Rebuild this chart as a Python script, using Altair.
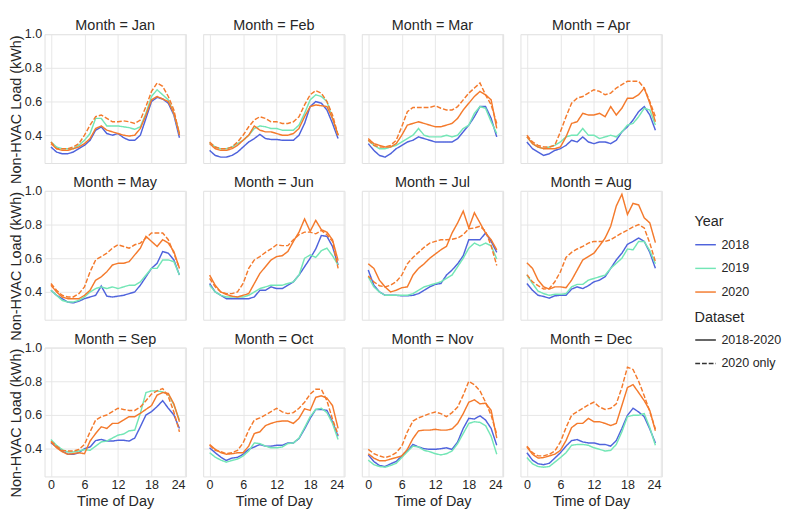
import altair as alt
import pandas as pd

MONTHS = ["Jan", "Feb", "Mar", "Apr", "May", "Jun", "Jul", "Aug", "Sep", "Oct", "Nov", "Dec"]
HOURS = list(range(24))
YEARS = ["2018", "2019", "2020"]
DATASETS = ["2018-2020", "2020 only"]
COLORS = ["#4f63dc", "#73e6b6", "#f47a2c"]

# values: 2018, 2019, 2020 (dataset 2018-2020) and 2020 (dataset 2020 only)
JAN_2018 = [0.33,0.30,0.29,0.29,0.30,0.32,0.34,0.37,0.43,0.45,0.41,0.40,0.41,0.385,0.37,0.37,0.40,0.50,0.60,0.625,0.615,0.59,0.52,0.385]
JAN_2019 = [0.36,0.33,0.32,0.32,0.32,0.34,0.37,0.41,0.50,0.50,0.455,0.455,0.455,0.45,0.445,0.435,0.45,0.53,0.63,0.67,0.64,0.61,0.53,0.41]
JAN_2020 = [0.35,0.32,0.31,0.31,0.32,0.33,0.35,0.38,0.44,0.455,0.43,0.42,0.41,0.40,0.395,0.40,0.44,0.52,0.61,0.63,0.615,0.60,0.53,0.41]
JAN_2020O = [0.36,0.32,0.32,0.32,0.33,0.35,0.40,0.46,0.51,0.52,0.50,0.48,0.48,0.485,0.48,0.47,0.49,0.57,0.66,0.71,0.69,0.63,0.55,0.40]

FEB_2018 = [0.31,0.28,0.27,0.27,0.28,0.30,0.33,0.36,0.38,0.405,0.38,0.375,0.375,0.37,0.37,0.37,0.40,0.47,0.57,0.60,0.59,0.55,0.47,0.38]
FEB_2019 = [0.355,0.33,0.32,0.32,0.33,0.35,0.37,0.40,0.44,0.455,0.45,0.44,0.44,0.43,0.43,0.43,0.46,0.53,0.61,0.64,0.63,0.60,0.50,0.40]
FEB_2020 = [0.35,0.32,0.31,0.31,0.32,0.34,0.37,0.40,0.455,0.43,0.42,0.42,0.41,0.40,0.40,0.41,0.44,0.51,0.57,0.58,0.575,0.57,0.50,0.40]
FEB_2020O = [0.36,0.33,0.32,0.32,0.33,0.36,0.40,0.45,0.49,0.51,0.50,0.48,0.48,0.47,0.47,0.48,0.51,0.58,0.64,0.665,0.65,0.60,0.52,0.40]

MAR_2018 = [0.35,0.31,0.28,0.27,0.29,0.32,0.34,0.36,0.37,0.39,0.38,0.37,0.36,0.36,0.36,0.36,0.38,0.42,0.46,0.51,0.57,0.57,0.50,0.39]
MAR_2019 = [0.37,0.34,0.32,0.32,0.33,0.34,0.36,0.38,0.40,0.44,0.40,0.39,0.39,0.39,0.40,0.39,0.40,0.44,0.46,0.53,0.57,0.56,0.48,0.41]
MAR_2020 = [0.38,0.35,0.34,0.33,0.33,0.35,0.40,0.46,0.47,0.48,0.47,0.46,0.45,0.45,0.46,0.47,0.50,0.55,0.59,0.63,0.66,0.64,0.61,0.44]
MAR_2020O = [0.37,0.34,0.33,0.33,0.34,0.37,0.45,0.54,0.565,0.565,0.565,0.565,0.575,0.56,0.55,0.55,0.57,0.61,0.65,0.68,0.71,0.64,0.58,0.47]

APR_2018 = [0.36,0.32,0.30,0.28,0.29,0.31,0.32,0.34,0.37,0.36,0.39,0.36,0.35,0.36,0.36,0.35,0.37,0.42,0.45,0.49,0.54,0.57,0.52,0.43]
APR_2019 = [0.39,0.35,0.33,0.32,0.33,0.34,0.36,0.39,0.40,0.40,0.44,0.40,0.40,0.38,0.39,0.40,0.39,0.42,0.46,0.47,0.51,0.56,0.55,0.46]
APR_2020 = [0.39,0.35,0.33,0.32,0.32,0.32,0.33,0.39,0.47,0.48,0.53,0.52,0.52,0.53,0.51,0.57,0.52,0.56,0.62,0.62,0.64,0.68,0.59,0.48]
APR_2020O = [0.40,0.36,0.34,0.33,0.33,0.34,0.42,0.51,0.59,0.62,0.63,0.65,0.67,0.66,0.64,0.65,0.68,0.70,0.72,0.72,0.72,0.68,0.60,0.51]

MAY_2018 = [0.41,0.38,0.36,0.34,0.335,0.345,0.36,0.37,0.38,0.435,0.375,0.37,0.375,0.38,0.39,0.40,0.44,0.49,0.54,0.57,0.64,0.63,0.59,0.50]
MAY_2019 = [0.41,0.38,0.35,0.34,0.34,0.35,0.37,0.40,0.42,0.43,0.42,0.43,0.42,0.43,0.44,0.44,0.46,0.50,0.54,0.54,0.59,0.59,0.58,0.50]
MAY_2020 = [0.44,0.40,0.37,0.36,0.36,0.36,0.38,0.41,0.47,0.49,0.52,0.56,0.57,0.57,0.58,0.62,0.66,0.73,0.70,0.67,0.71,0.69,0.64,0.54]
MAY_2020O = [0.45,0.41,0.38,0.37,0.37,0.39,0.43,0.52,0.59,0.61,0.63,0.66,0.68,0.67,0.66,0.68,0.69,0.72,0.75,0.75,0.75,0.71,0.63,0.54]

JUN_2018 = [0.45,0.40,0.38,0.36,0.36,0.36,0.36,0.36,0.37,0.41,0.41,0.43,0.42,0.42,0.44,0.46,0.50,0.55,0.60,0.655,0.735,0.73,0.67,0.56]
JUN_2019 = [0.44,0.40,0.38,0.37,0.37,0.37,0.37,0.38,0.40,0.42,0.43,0.44,0.44,0.44,0.45,0.46,0.50,0.60,0.62,0.605,0.645,0.66,0.615,0.56]
JUN_2020 = [0.50,0.44,0.40,0.385,0.375,0.37,0.38,0.39,0.45,0.51,0.55,0.59,0.61,0.615,0.64,0.70,0.755,0.833,0.76,0.825,0.77,0.755,0.71,0.586]
JUN_2020O = [0.48,0.43,0.40,0.39,0.39,0.40,0.45,0.54,0.59,0.61,0.635,0.655,0.68,0.675,0.675,0.71,0.74,0.755,0.755,0.745,0.765,0.74,0.70,0.54]

JUL_2018 = [0.53,0.44,0.40,0.38,0.38,0.38,0.377,0.377,0.38,0.39,0.41,0.43,0.445,0.45,0.50,0.53,0.567,0.615,0.71,0.71,0.71,0.75,0.70,0.635]
JUL_2019 = [0.49,0.43,0.40,0.38,0.38,0.38,0.38,0.38,0.39,0.41,0.43,0.44,0.45,0.46,0.48,0.50,0.55,0.60,0.66,0.69,0.674,0.69,0.674,0.596]
JUL_2020 = [0.567,0.54,0.47,0.43,0.40,0.41,0.425,0.43,0.50,0.54,0.567,0.60,0.625,0.65,0.67,0.75,0.81,0.88,0.78,0.87,0.81,0.75,0.71,0.65]
JUL_2020O = [0.495,0.46,0.437,0.43,0.44,0.46,0.50,0.567,0.605,0.635,0.665,0.69,0.70,0.71,0.71,0.713,0.72,0.74,0.775,0.78,0.79,0.76,0.674,0.557]

AUG_2018 = [0.45,0.41,0.38,0.373,0.363,0.377,0.38,0.38,0.417,0.43,0.42,0.437,0.46,0.47,0.49,0.54,0.59,0.63,0.683,0.70,0.72,0.70,0.635,0.54]
AUG_2019 = [0.50,0.45,0.405,0.39,0.38,0.386,0.386,0.39,0.43,0.445,0.445,0.47,0.48,0.49,0.50,0.54,0.57,0.60,0.655,0.65,0.70,0.70,0.645,0.567]
AUG_2020 = [0.573,0.54,0.47,0.43,0.417,0.43,0.43,0.425,0.47,0.53,0.59,0.61,0.63,0.674,0.72,0.79,0.91,0.98,0.86,0.926,0.917,0.84,0.81,0.693]
AUG_2020O = [0.503,0.46,0.437,0.417,0.42,0.46,0.52,0.605,0.635,0.655,0.67,0.69,0.70,0.70,0.70,0.71,0.73,0.75,0.767,0.786,0.80,0.78,0.69,0.58]

SEP_2018 = [0.435,0.41,0.386,0.367,0.367,0.376,0.40,0.41,0.448,0.455,0.445,0.445,0.45,0.45,0.445,0.463,0.53,0.60,0.62,0.65,0.685,0.64,0.60,0.52]
SEP_2019 = [0.454,0.42,0.395,0.38,0.38,0.386,0.395,0.39,0.415,0.44,0.445,0.463,0.48,0.487,0.506,0.51,0.61,0.733,0.743,0.743,0.737,0.724,0.66,0.57]
SEP_2020 = [0.44,0.405,0.382,0.367,0.37,0.376,0.37,0.445,0.49,0.53,0.52,0.55,0.55,0.57,0.59,0.59,0.61,0.633,0.656,0.718,0.733,0.728,0.666,0.56]
SEP_2020O = [0.444,0.415,0.39,0.386,0.386,0.395,0.425,0.50,0.57,0.59,0.60,0.62,0.64,0.633,0.627,0.627,0.647,0.685,0.724,0.743,0.757,0.71,0.618,0.50]

OCT_2018 = [0.405,0.376,0.35,0.33,0.344,0.348,0.367,0.396,0.41,0.425,0.415,0.415,0.42,0.42,0.434,0.434,0.46,0.517,0.58,0.633,0.633,0.627,0.56,0.473]
OCT_2019 = [0.376,0.35,0.332,0.32,0.33,0.338,0.357,0.386,0.434,0.43,0.415,0.405,0.405,0.41,0.43,0.434,0.463,0.525,0.59,0.633,0.64,0.614,0.55,0.454]
OCT_2020 = [0.425,0.396,0.376,0.367,0.37,0.376,0.376,0.415,0.49,0.50,0.537,0.55,0.56,0.564,0.564,0.55,0.58,0.637,0.627,0.705,0.714,0.70,0.656,0.52]
OCT_2020O = [0.42,0.39,0.382,0.37,0.376,0.39,0.434,0.51,0.57,0.583,0.60,0.62,0.64,0.618,0.608,0.614,0.64,0.676,0.724,0.753,0.753,0.685,0.575,0.483]

NOV_2018 = [0.363,0.324,0.30,0.294,0.31,0.324,0.357,0.386,0.425,0.41,0.40,0.396,0.396,0.40,0.405,0.396,0.44,0.52,0.58,0.576,0.595,0.57,0.52,0.42]
NOV_2019 = [0.332,0.305,0.294,0.29,0.30,0.313,0.347,0.382,0.415,0.41,0.39,0.382,0.37,0.363,0.37,0.386,0.43,0.49,0.55,0.56,0.556,0.537,0.473,0.367]
NOV_2020 = [0.37,0.344,0.328,0.328,0.338,0.347,0.357,0.396,0.46,0.506,0.51,0.51,0.515,0.51,0.51,0.517,0.55,0.608,0.676,0.69,0.666,0.67,0.627,0.463]
NOV_2020O = [0.396,0.37,0.357,0.347,0.357,0.376,0.415,0.50,0.564,0.583,0.595,0.608,0.618,0.608,0.59,0.614,0.647,0.718,0.80,0.78,0.743,0.676,0.598,0.486]

DEC_2018 = [0.376,0.332,0.31,0.305,0.313,0.344,0.376,0.415,0.448,0.454,0.44,0.434,0.434,0.425,0.425,0.415,0.448,0.52,0.598,0.64,0.618,0.59,0.517,0.434]
DEC_2019 = [0.347,0.31,0.294,0.29,0.294,0.32,0.347,0.376,0.42,0.425,0.425,0.42,0.405,0.396,0.386,0.39,0.425,0.50,0.59,0.598,0.598,0.608,0.525,0.42]
DEC_2020 = [0.41,0.367,0.344,0.347,0.357,0.367,0.39,0.448,0.525,0.55,0.55,0.58,0.56,0.56,0.55,0.537,0.55,0.656,0.763,0.78,0.733,0.685,0.627,0.506]
DEC_2020O = [0.415,0.376,0.357,0.357,0.367,0.386,0.44,0.525,0.598,0.62,0.64,0.66,0.676,0.647,0.633,0.64,0.666,0.763,0.884,0.87,0.80,0.714,0.62,0.517]

TABLE = [
    ("Jan", JAN_2018, JAN_2019, JAN_2020, JAN_2020O),
    ("Feb", FEB_2018, FEB_2019, FEB_2020, FEB_2020O),
    ("Mar", MAR_2018, MAR_2019, MAR_2020, MAR_2020O),
    ("Apr", APR_2018, APR_2019, APR_2020, APR_2020O),
    ("May", MAY_2018, MAY_2019, MAY_2020, MAY_2020O),
    ("Jun", JUN_2018, JUN_2019, JUN_2020, JUN_2020O),
    ("Jul", JUL_2018, JUL_2019, JUL_2020, JUL_2020O),
    ("Aug", AUG_2018, AUG_2019, AUG_2020, AUG_2020O),
    ("Sep", SEP_2018, SEP_2019, SEP_2020, SEP_2020O),
    ("Oct", OCT_2018, OCT_2019, OCT_2020, OCT_2020O),
    ("Nov", NOV_2018, NOV_2019, NOV_2020, NOV_2020O),
    ("Dec", DEC_2018, DEC_2019, DEC_2020, DEC_2020O),
]

rows = []
for month, v18, v19, v20, v20o in TABLE:
    for year, ds, vals in [("2018", DATASETS[0], v18), ("2019", DATASETS[0], v19),
                           ("2020", DATASETS[0], v20), ("2020", DATASETS[1], v20o)]:
        for h, v in zip(HOURS, vals):
            rows.append({"Month": month, "Hour": h, "Load": v, "Year": year, "Dataset": ds})
df = pd.DataFrame(rows)

FONT = "Liberation Sans"
TXT = "#262626"
PANEL_H = 134

base = alt.Chart(df).mark_line(strokeWidth=1.5).encode(
    x=alt.X("Hour:Q",
            scale=alt.Scale(domain=[-1.15, 24.15], nice=False, zero=False),
            axis=alt.Axis(values=[0, 6, 12, 18, 24], title="Time of Day")),
    y=alt.Y("Load:Q",
            scale=alt.Scale(domain=[0.235, 1.0], nice=False, zero=False),
            axis=alt.Axis(values=[0.4, 0.6, 0.8, 1.0], format=".1f", title="Non-HVAC Load (kWh)",
                          titleY=78)),
    color=alt.Color("Year:N", scale=alt.Scale(domain=YEARS, range=COLORS),
                    legend=alt.Legend(title="Year", orient="none", legendX=676, legendY=188)),
    strokeDash=alt.StrokeDash("Dataset:N", scale=alt.Scale(domain=DATASETS, range=[[1, 0], [5, 2]]),
                              legend=alt.Legend(title="Dataset", orient="none", legendX=676, legendY=287,
                                                symbolStrokeColor="#333333")),
).properties(width=147, height=PANEL_H)

chart = base.facet(
    facet=alt.Facet("Month:N", sort=MONTHS, title=None,
                    header=alt.Header(labelExpr="'Month = ' + datum.value")),
    columns=4,
    spacing={"row": 11, "column": 16},
).properties(
    padding=0
).configure_view(
    stroke="#e0e0e0", strokeWidth=1
).configure_axis(
    grid=True, gridColor="#e6e6e6", gridWidth=1, domain=False, ticks=False,
    labelFont=FONT, titleFont=FONT, labelFontSize=13, titleFontSize=15,
    labelColor=TXT, titleColor=TXT, titleFontWeight="normal",
    labelPadding=2, titlePadding=1
).configure_axisX(
    titlePadding=2
).configure_header(
    labelFont=FONT, labelFontSize=15, labelColor=TXT, labelPadding=1,
    labelLineHeight=15, titlePadding=0
).configure_legend(
    labelFont=FONT, titleFont=FONT, labelFontSize=13, titleFontSize=15,
    titleFontWeight="normal", labelColor=TXT, titleColor=TXT,
    symbolType="stroke", symbolSize=460, symbolStrokeWidth=1.5,
    rowPadding=5.6, titlePadding=4.5, labelOffset=5
)

chart.save("out.html", embed_options={"renderer": "svg", "actions": False})
